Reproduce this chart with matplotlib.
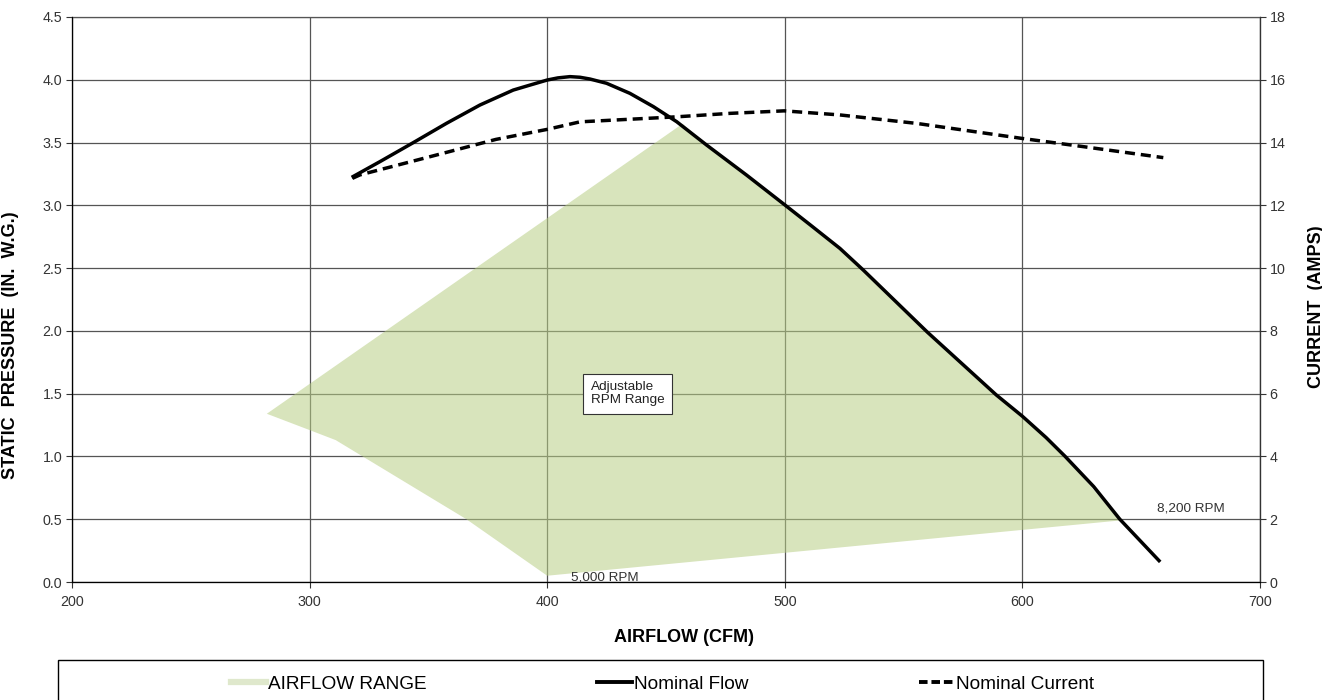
import matplotlib
matplotlib.use("Agg")
import matplotlib.pyplot as plt
from matplotlib.lines import Line2D
from matplotlib.patches import Rectangle

plt.rcParams['font.family'] = ['Liberation Sans', 'DejaVu Sans']

# adjustable rpm range (polygon outline, CFM vs in. w.g.)
range_cfm = [282, 457, 467, 484, 500, 516, 523, 533, 560, 589, 600, 618, 641, 400, 366, 311, 300]
range_sp = [1.34, 3.65, 3.48, 3.24, 3.01, 2.77, 2.66, 2.49, 1.99, 1.49, 1.32, 1.00, 0.49, 0.05, 0.50, 1.13, 1.21]

# nominal flow curve
flow_cfm = [317.7, 329.6, 343.6, 357.6, 371.7, 385.7, 392.8, 400, 404.5, 409.6, 413.8, 418, 425,
            434.8, 444.7, 454.5, 467.1, 483.9, 499.7, 511, 523.2, 533, 560, 589, 600, 610, 618, 630, 641, 658]
flow_sp = [3.223, 3.348, 3.499, 3.653, 3.799, 3.918, 3.958, 3.998, 4.015, 4.025, 4.02, 4.006, 3.972,
           3.892, 3.786, 3.666, 3.48, 3.241, 3.008, 2.84, 2.657, 2.485, 1.99, 1.49, 1.32, 1.15, 1.00, 0.76, 0.50, 0.16]

# nominal current (right axis)
cur_cfm = [318, 321.2, 350.7, 378.4, 400, 413.8, 441.8, 454.5, 476.9, 499.7, 523.2, 555.5, 600, 625.6, 659.3]
cur_amps = [12.86, 12.97, 13.55, 14.10, 14.42, 14.66, 14.77, 14.82, 14.93, 15.01, 14.88, 14.61, 14.13, 13.87, 13.52]

x_ticks = [200, 300, 400, 500, 600, 700]
sp_ticks = [0.0, 0.5, 1.0, 1.5, 2.0, 2.5, 3.0, 3.5, 4.0, 4.5]
amp_ticks = [0, 2, 4, 6, 8, 10, 12, 14, 16, 18]

grid_col = '#555555'
tick_col = '#333333'

fig = plt.figure(figsize=(13.22, 7.0), dpi=100)
ax = fig.add_axes([72/1322, 118/700, 1188/1322, 565/700])

ax.fill(range_cfm, range_sp, color='#b8ce85', alpha=0.55, lw=0, zorder=2)
ax.plot(flow_cfm, flow_sp, color='black', lw=2.5, zorder=4, solid_capstyle='butt',
        solid_joinstyle='round')

ax.set_xlim(200, 700)
ax.set_ylim(0, 4.5)
ax.set_xticks(x_ticks)
ax.set_yticks(sp_ticks)
ax.set_yticklabels(['%.1f' % v for v in sp_ticks])
ax.grid(True, color=grid_col, lw=0.9, zorder=0)
ax.set_axisbelow(True)
ax.tick_params(axis='both', direction='out', length=4, width=0.8, color=tick_col,
               labelsize=10.3, labelcolor=tick_col)
ax.tick_params(axis='x', pad=5)
ax.tick_params(axis='y', pad=3)
for s in ['left', 'bottom']:
    ax.spines[s].set_color(tick_col)
    ax.spines[s].set_linewidth(0.9)
ax.spines['top'].set_color(grid_col)
ax.spines['top'].set_linewidth(0.9)

ax.set_xlabel('AIRFLOW (CFM)', fontsize=13, fontweight='bold')
ax.xaxis.set_label_coords(0.515, -0.083)
ax.set_ylabel('STATIC  PRESSURE  (IN.  W.G.)', fontsize=13, fontweight='bold')
ax.yaxis.set_label_coords(-0.045, 0.42)

ax2 = ax.twinx()
ax2.plot(cur_cfm, cur_amps, color='black', lw=2.5, dashes=(2.9, 1.7), zorder=4)
ax2.set_ylim(0, 18)
ax2.set_yticks(amp_ticks)
ax2.tick_params(axis='y', direction='out', length=4, width=0.8, color=tick_col,
                labelsize=10.3, labelcolor=tick_col, pad=3)
ax2.spines['right'].set_color(tick_col)
ax2.spines['right'].set_linewidth(0.9)
ax2.spines['top'].set_visible(False)
ax2.set_ylabel('CURRENT  (AMPS)', fontsize=13, fontweight='bold')
ax2.yaxis.set_label_coords(1.04, 0.488)

ax2.text(418.3, 1.5 * 4, 'Adjustable\nRPM Range', fontsize=9.7, color='#222222',
         ha='left', va='center', linespacing=1.1, zorder=6,
         bbox=dict(boxstyle='square,pad=0.55', fc='white', ec='#333333', lw=0.8))
ax2.text(409.9, 0.037 * 4, '5,000 RPM', fontsize=9.7, color='#333333', ha='left', va='center')
ax2.text(656.6, 0.589 * 4, '8,200 RPM', fontsize=9.7, color='#333333', ha='left', va='center')

# legend box at the bottom (cut off by figure edge)
fig.patches.append(Rectangle((58/1322, -0.05), 1205/1322, 0.05 + 40/700,
                             transform=fig.transFigure, fill=False, ec='black', lw=1.0))
handles = [Line2D([], [], color='#dfe8cc', lw=4.5),
           Line2D([], [], color='black', lw=2.8),
           Line2D([], [], color='black', lw=2.8, dashes=(2.2, 1.0))]
labels = ['AIRFLOW RANGE', 'Nominal Flow', 'Nominal Current']
fig.legend(handles, labels, loc='center', bbox_to_anchor=(662.5/1322, 16/700), ncol=3,
           frameon=False, fontsize=13.7, handlelength=1.8, handletextpad=0.1,
           columnspacing=9.0, borderpad=0)

fig.savefig('out.png', dpi=100)
